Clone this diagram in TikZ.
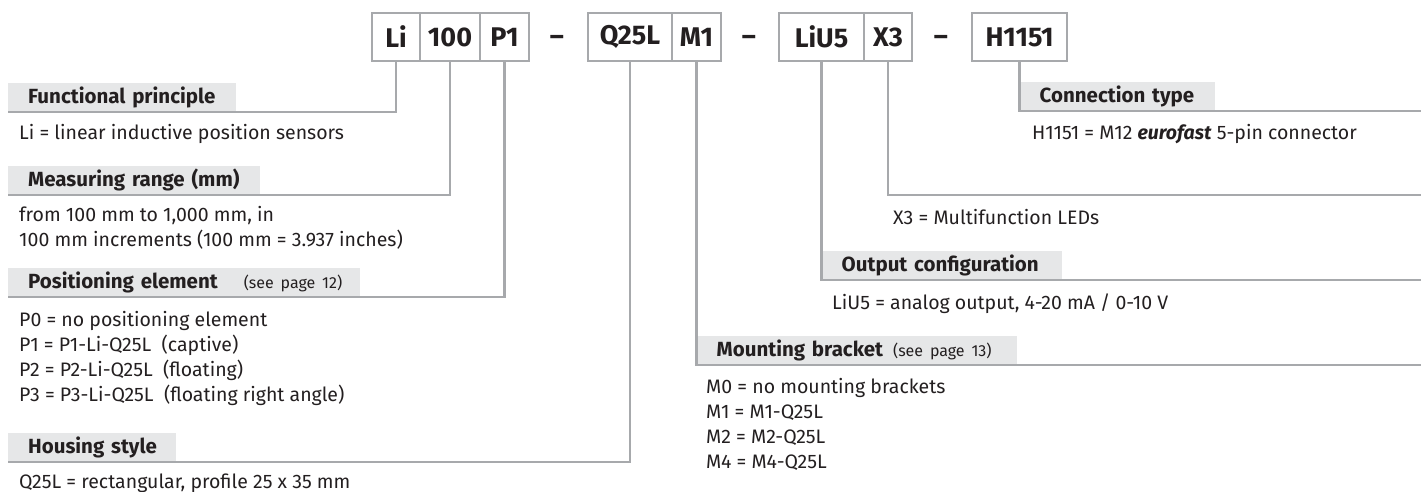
\documentclass[tikz,border=0pt]{standalone}
\usepackage{fontspec}
\setmainfont{Fira Sans}
\definecolor{rulegray}{RGB}{167,169,172}
\definecolor{barfill}{RGB}{230,231,232}
\definecolor{inkblack}{RGB}{35,31,32}
\newcommand{\codefont}{\fontsize{27}{30}\selectfont\bfseries}
\newcommand{\headfont}{\fontsize{20.5}{24}\selectfont\bfseries}
\newcommand{\bodyfont}{\fontsize{19.5}{25}\selectfont}
\newcommand{\pagenote}[1]{{\mdseries\fontsize{16}{20}\selectfont #1}}
\tikzset{
  codebox/.style={draw=rulegray, line width=2pt, minimum height=48pt, inner sep=0pt, text=inkblack, font=\codefont},
  codedash/.style={inner sep=0pt, text=inkblack, font=\codefont},
  headbar/.style={fill=barfill, anchor=south west, minimum height=29pt, inner ysep=0pt, inner xsep=20pt, align=left, text=inkblack, font=\headfont},
  link/.style={draw=rulegray, line width=2.5pt},
  info/.style={anchor=base west, inner sep=0pt, align=left, text=inkblack, font=\bodyfont},
}
\begin{document}
\begin{tikzpicture}[x=1pt,y=-1pt]
  \useasboundingbox (0,0) rectangle (1421,491);

  % type code
  \node[codebox, minimum width=48pt] (li) at (396,37) {Li};
  \node[codebox, minimum width=60pt] (range) at (450,37) {100};
  \node[codebox, minimum width=49pt] (pos) at (504.5,37) {P1};
  \node[codedash] (dasha) at (557,40) {\textendash};
  \node[codebox, minimum width=84pt] (housing) at (630,37) {Q25L};
  \node[codebox, minimum width=49pt] (mount) at (696.5,37) {M1};
  \node[codedash] (dashb) at (749,40) {\textendash};
  \node[codebox, minimum width=85pt] (output) at (821.5,37) {LiU5};
  \node[codebox, minimum width=48pt] (led) at (888,37) {X3};
  \node[codedash] (dashc) at (941,40) {\textendash};
  \node[codebox, minimum width=95pt] (conn) at (1019.5,37) {H1151};

  % line ends on the right
  \coordinate (ctend) at (1421,111);
  \coordinate (ledend) at (1421,195);
  \coordinate (ocend) at (1421,280);
  \coordinate (mbend) at (1421,365);

  % headings
  \node[headbar, text width=188pt] (func) at (8,112) {\mbox{Functional principle}};
  \node[headbar, text width=212pt] (meas) at (8,195) {\mbox{Measuring range (mm)}};
  \node[headbar, text width=312pt] (posel) at (8,297) {\mbox{Positioning element\hspace{26pt}\pagenote{(see page 12)}}};
  \node[headbar, text width=128pt] (hous) at (8,462) {\mbox{Housing style}};
  \node[headbar, text width=155pt] (ctype) at (conn.south |- ctend) {\mbox{Connection type}};
  \node[headbar, text width=200pt] (ocfg) at (output.south |- ocend) {\mbox{Output configuration}};
  \node[headbar, text width=280pt] (mbr) at (mount.south |- mbend) {\mbox{Mounting bracket\hspace{10pt}\pagenote{(see page 13)}}};

  \draw[link] (li.south) |- (func.south west);
  \draw[link] (range.south) |- (meas.south west);
  \draw[link] (pos.south) |- (posel.south west);
  \draw[link] (housing.south) |- (hous.south west);
  \draw[link] (mount.south) |- (mbend);
  \draw[link] (output.south) |- (ocend);
  \draw[link] (led.south) |- (ledend);
  \draw[link] (conn.south) |- (ctend);

  % explanations (base = last line)
  \node[info] (funcinfo) at (19,139) {Li = linear inductive position sensors};
  \node[info] (measinfo) at (19,246) {from 100 mm to 1,000 mm, in\\100 mm increments (100 mm = 3.937 inches)};
  \node[info] (poselinfo) at (19,401) {P0 = no positioning element\\P1 = P1-Li-Q25L\ \ (captive)\\P2 = P2-Li-Q25L\ \ (floating)\\P3 = P3-Li-Q25L\ \ (floating right angle)};
  \node[info] (housinfo) at (19,488) {Q25L = rectangular, profile 25 x 35 mm};
  \node[info] (ctypeinfo) at (1032,139) {H1151 = M12 \textbf{\textit{eurofast}} 5-pin connector};
  \node[info] (ledinfo) at (893,224) {X3 = Multifunction LEDs};
  \node[info] (ocfginfo) at (832,309) {LiU5 = analog output, 4-20 mA / 0-10 V};
  \node[info] (mbrinfo) at (706,468) {M0 = no mounting brackets\\M1 = M1-Q25L\\M2 = M2-Q25L\\M4 = M4-Q25L};
\end{tikzpicture}
\end{document}
